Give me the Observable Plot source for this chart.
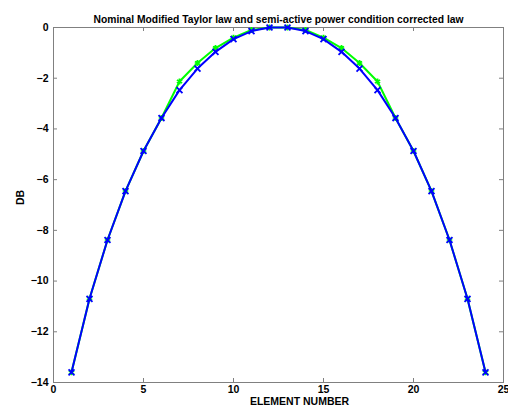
<!DOCTYPE html>
<html>
<head>
<meta charset="utf-8">
<script src="https://cdn.jsdelivr.net/npm/d3@7"></script>
<script src="https://cdn.jsdelivr.net/npm/@observablehq/plot@0.6"></script>
<style>
  html, body { margin: 0; padding: 0; background: #fff; }
</style>
</head>
<body>
<div id="chart"></div>
<script>
const elements = [1,2,3,4,5,6,7,8,9,10,11,12,13,14,15,16,17,18,19,20,21,22,23,24];
const nominalDb = [-13.6,-10.7,-8.38,-6.45,-4.87,-3.57,-2.47,-1.62,-0.96,-0.46,-0.14,0,
                   0,-0.14,-0.46,-0.96,-1.62,-2.47,-3.57,-4.87,-6.45,-8.38,-10.7,-13.6];
const correctedDb = [-13.6,-10.7,-8.38,-6.45,-4.87,-3.57,-2.13,-1.4,-0.81,-0.4,-0.1,0,
                     0,-0.1,-0.4,-0.81,-1.4,-2.13,-3.57,-4.87,-6.45,-8.38,-10.7,-13.6];
const xTicks = [0,5,10,15,20,25];
const yTicks = [0,-2,-4,-6,-8,-10,-12,-14];
const titleText = "Nominal Modified Taylor law and semi-active power condition corrected law";
const xLabel = "ELEMENT NUMBER";
const yLabel = "DB";

const nominal = elements.map((e,i) => ({x: e, y: nominalDb[i]}));
const corrected = elements.map((e,i) => ({x: e, y: correctedDb[i]}));

const W = 508, H = 407, mT = 27, mB = 25, mL = 53, mR = 5;
const innerH = H - mT - mB, innerW = W - mL - mR;
const axisColor = "#808080";

const chart = Plot.plot({
  width: W, height: H,
  marginTop: mT, marginBottom: mB, marginLeft: mL, marginRight: mR,
  style: {fontFamily: "'Liberation Sans', Arial, sans-serif", fontSize: "10.5px", fontWeight: "bold", color: "#000", background: "#fff"},
  x: {domain: [0, 25]},
  y: {domain: [-14, 0]},
  marks: [
    Plot.frame({stroke: axisColor}),
    Plot.tickX(xTicks.slice(1,-1), {x: d => d, insetTop: innerH - 4, stroke: axisColor}),
    Plot.tickX(xTicks.slice(1,-1), {x: d => d, insetBottom: innerH - 4, stroke: axisColor}),
    Plot.tickY(yTicks.slice(1,-1), {y: d => d, insetRight: innerW - 4, stroke: axisColor}),
    Plot.tickY(yTicks.slice(1,-1), {y: d => d, insetLeft: innerW - 4, stroke: axisColor}),
    Plot.axisX({ticks: xTicks, tickSize: 0, tickPadding: 3, label: null, fill: "#000"}),
    Plot.axisY({ticks: yTicks, tickSize: 0, tickPadding: 5, label: null, fill: "#000"}),
    Plot.line(corrected, {x: "x", y: "y", stroke: "#00ff00", strokeWidth: 2}),
    Plot.dot(corrected, {x: "x", y: "y", symbol: "asterisk", r: 2.8, stroke: "#00ff00", strokeWidth: 1.8}),
    Plot.line(nominal, {x: "x", y: "y", stroke: "#0000ff", strokeWidth: 2}),
    Plot.dot(nominal, {x: "x", y: "y", symbol: "times", r: 2.8, stroke: "#0000ff", strokeWidth: 1.8}),
    Plot.text([titleText], {text: d => d, frameAnchor: "top", dy: -12, fontSize: 10.3, fontWeight: "bold", fill: "#000"}),
    Plot.text([xLabel], {text: d => d, frameAnchor: "bottom", dx: 21, dy: 22, fontSize: 10.5, fontWeight: "bold", fill: "#000"}),
    Plot.text([yLabel], {text: d => d, frameAnchor: "left", dx: -33, rotate: -90, fontSize: 10.5, fontWeight: "bold", fill: "#000"})
  ]
});
document.getElementById("chart").appendChild(chart);
</script>
</body>
</html>
